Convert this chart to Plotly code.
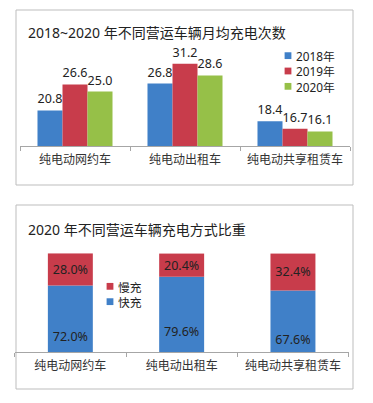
import plotly.graph_objects as go

# ---------------- data ----------------
categories = ["纯电动网约车", "纯电动出租车", "纯电动共享租赁车"]
year_names = ["2018年", "2019年", "2020年"]
charges_2018 = [20.8, 26.8, 18.4]
charges_2019 = [26.6, 31.2, 16.7]
charges_2020 = [25.0, 28.6, 16.1]
mode_names = ["快充", "慢充"]
fast_share = [72.0, 79.6, 67.6]
slow_share = [28.0, 20.4, 32.4]

title_top = "2018~2020 年不同营运车辆月均充电次数"
title_bottom = "2020 年不同营运车辆充电方式比重"

# ---------------- styles ----------------
PAGE_MARGIN = 8           # default body margin of the html page
W, H = 373 - 2 * PAGE_MARGIN, 403 - 2 * PAGE_MARGIN
FONT = "Noto Sans, Noto Sans CJK SC, sans-serif"
year_colors = ["#4080C8", "#C83C4B", "#96C048"]
mode_colors = ["#4080C8", "#C83C4B"]
frame_color = "#BDBDBD"
axis_color = "#A6A6A6"
text_color = "#222222"
LBL = 12.5
LEG = 11.8


def px(x):
    return (x - PAGE_MARGIN) / W


def py(y):
    return 1 - (y - PAGE_MARGIN) / H


TOP_MIN = 12.85          # value axis of top chart does not start at zero
TOP_PX_PER_UNIT = 4.48
TOP_BASE_PX, TOP_TOP_PX = 146, 50
BOT_MIN = 14             # value axis of bottom chart does not start at zero

fig = go.Figure()

series = [charges_2018, charges_2019, charges_2020]
for name, vals, col in zip(year_names, series, year_colors):
    fig.add_trace(go.Bar(
        x=categories, y=vals, name=name, marker=dict(color=col, line=dict(width=0)),
        offsetgroup=name, xaxis="x", yaxis="y",
        text=[f"{v:.1f}" for v in vals], textposition="outside", cliponaxis=False,
        textfont=dict(family=FONT, size=LBL, color=text_color),
        showlegend=False,
    ))

# bottom stacked bars (same offsetgroup, red on top of blue)
fig.add_trace(go.Bar(
    x=categories, y=fast_share, name=mode_names[0], width=0.404,
    marker=dict(color=mode_colors[0], line=dict(width=0)),
    offsetgroup="mode", xaxis="x2", yaxis="y2", showlegend=False,
))
fig.add_trace(go.Bar(
    x=categories, y=slow_share, base=fast_share, name=mode_names[1], width=0.404,
    marker=dict(color=mode_colors[1], line=dict(width=0)),
    offsetgroup="mode", xaxis="x2", yaxis="y2", showlegend=False,
    text=[f"{v:.1f}%" for v in slow_share], textposition="inside",
    insidetextanchor="middle", constraintext="none",
    textfont=dict(family=FONT, size=LBL, color=text_color),
))
# labels of the fast-charge segment (placed as in the original, low in the bar)
label_y = [BOT_MIN + (v / 2 - 25) * (100 - BOT_MIN) / 75 for v in fast_share]
fig.add_trace(go.Scatter(
    x=categories, y=label_y, mode="text", text=[f"{v:.1f}%" for v in fast_share],
    textfont=dict(family=FONT, size=LBL, color=text_color),
    xaxis="x2", yaxis="y2", showlegend=False, hoverinfo="skip", cliponaxis=False,
))

axis_common = dict(
    showline=True, linecolor=axis_color, linewidth=1,
    ticks="outside", tickson="boundaries", ticklen=4, tickcolor=axis_color,
    showgrid=False, zeroline=False, fixedrange=True,
    tickfont=dict(family=FONT, size=12, color="#333333"),
    ticklabelstandoff=3,
)

fig.update_layout(
    width=W, height=H, margin=dict(l=0, r=0, t=0, b=0),
    paper_bgcolor="white", plot_bgcolor="rgba(0,0,0,0)",
    barmode="group", bargap=0.318, bargroupgap=0,
    font=dict(family=FONT, color=text_color),
    xaxis=dict(domain=[px(20), px(350)], anchor="y", **axis_common),
    yaxis=dict(domain=[py(TOP_BASE_PX), py(TOP_TOP_PX)], anchor="x",
               range=[TOP_MIN, TOP_MIN + (TOP_BASE_PX - TOP_TOP_PX) / TOP_PX_PER_UNIT],
               visible=False, fixedrange=True),
    xaxis2=dict(domain=[px(14.7), px(348.6)], anchor="y2", **axis_common),
    yaxis2=dict(domain=[py(352), py(253.3)], anchor="x2", range=[BOT_MIN, 100],
                visible=False, fixedrange=True),
)

shapes = [
    dict(type="rect", xref="paper", yref="paper", x0=px(16), x1=px(353), y0=py(185), y1=py(10),
         line=dict(color=frame_color, width=1), fillcolor="rgba(0,0,0,0)", layer="below"),
    dict(type="rect", xref="paper", yref="paper", x0=px(16), x1=px(353), y0=py(389), y1=py(205),
         line=dict(color=frame_color, width=1), fillcolor="rgba(0,0,0,0)", layer="below"),
]
annotations = [
    dict(text=title_top, xref="paper", yref="paper", x=px(26), y=py(33), xanchor="left",
         yanchor="middle", showarrow=False, font=dict(family=FONT, size=14, color=text_color)),
    dict(text=title_bottom, xref="paper", yref="paper", x=px(26), y=py(229.5), xanchor="left",
         yanchor="middle", showarrow=False, font=dict(family=FONT, size=14, color=text_color)),
]

# custom compact legends (one multi-line text block each, with colour squares)
SQ = 3.4
LINE = 1.3 * LEG


def add_legend(names, colors, x_sq, x_txt, y_mid):
    n = len(names)
    for i, col in enumerate(colors):
        yc = y_mid + (i - (n - 1) / 2) * LINE
        shapes.append(dict(type="rect", xref="paper", yref="paper",
                           x0=px(x_sq - SQ), x1=px(x_sq + SQ),
                           y0=py(yc + SQ), y1=py(yc - SQ), line=dict(width=0), fillcolor=col))
    annotations.append(dict(text="<br>".join(names), xref="paper", yref="paper",
                            x=px(x_txt), y=py(y_mid), xanchor="left", yanchor="middle",
                            align="left", showarrow=False,
                            font=dict(family=FONT, size=LEG, color=text_color)))


add_legend(year_names, year_colors, 288, 293.5, 71)
add_legend([mode_names[1], mode_names[0]], [mode_colors[1], mode_colors[0]], 110, 115.5, 294)

fig.update_layout(shapes=shapes, annotations=annotations)
fig.write_html("out.html")
